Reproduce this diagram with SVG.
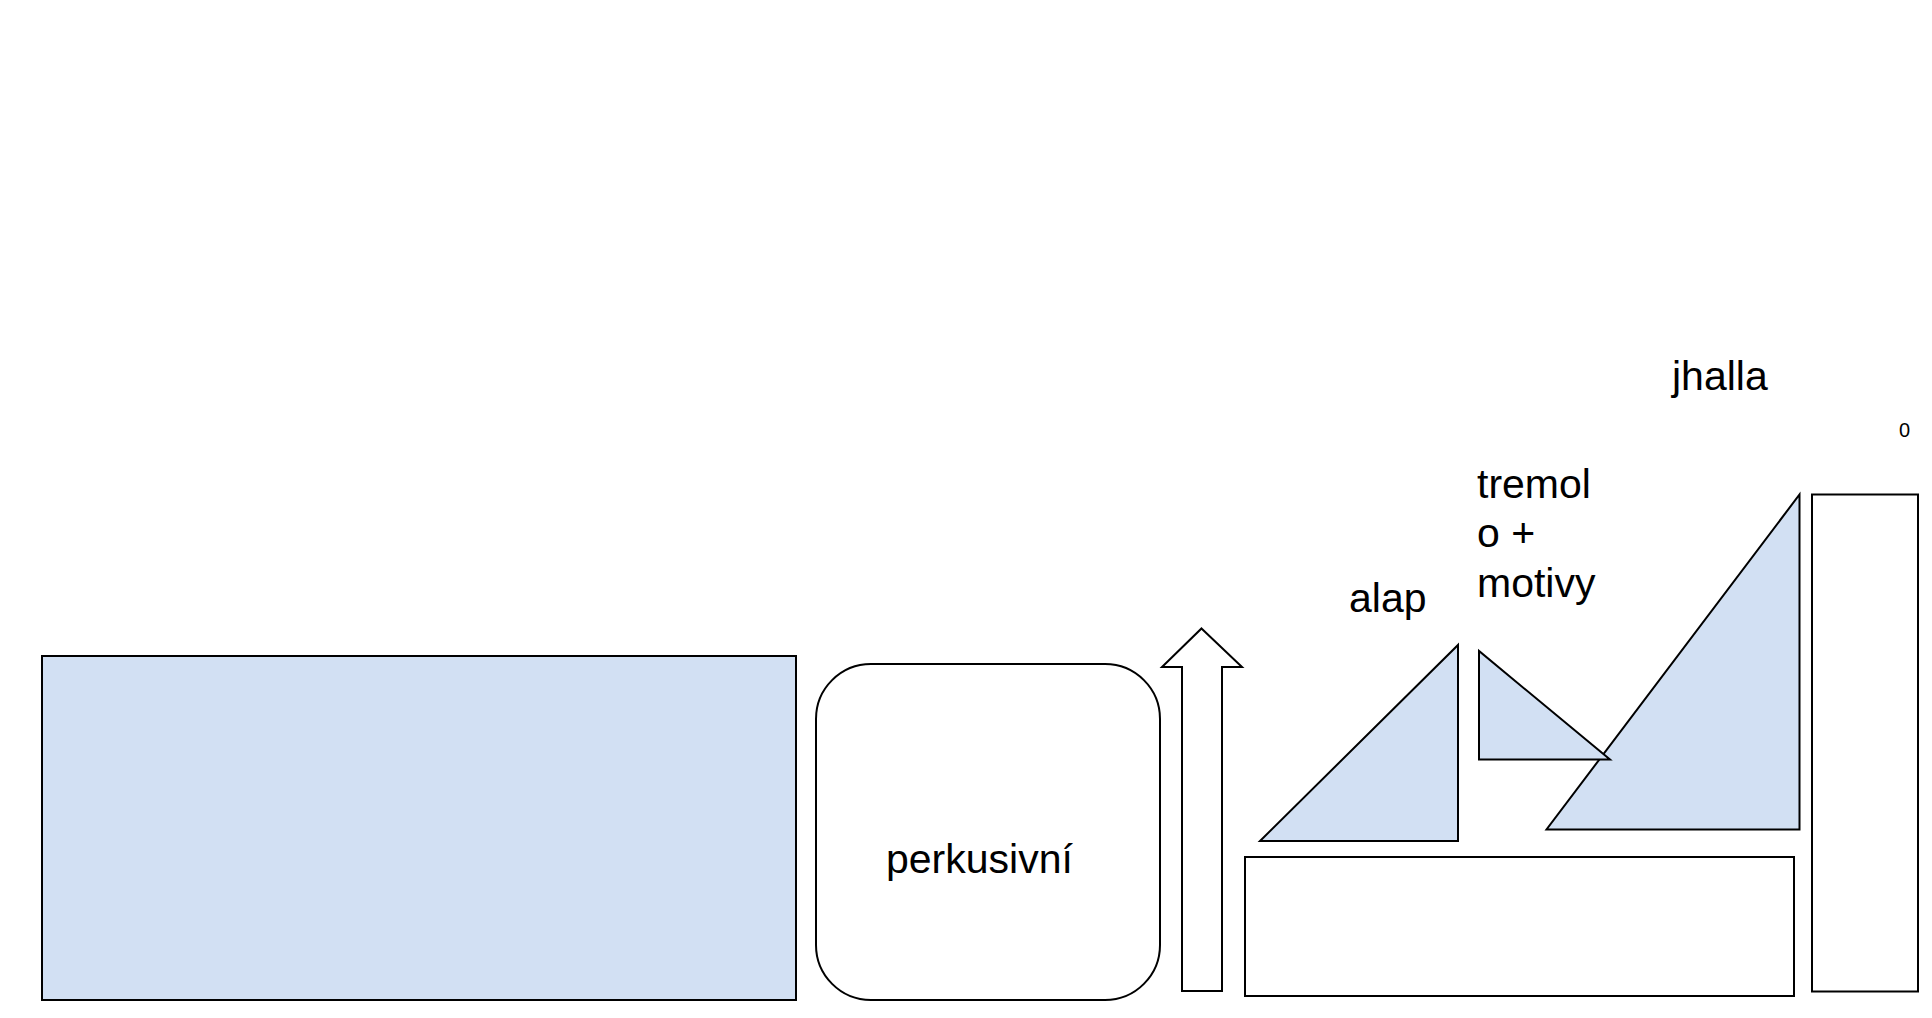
<svg xmlns="http://www.w3.org/2000/svg" width="1932" height="1018" viewBox="0 0 1932 1018">
<style>
.s{stroke:#000;stroke-width:2;stroke-linejoin:miter}
.b{fill:#d2e0f3}
.w{fill:#fff}
.t{font-family:"Liberation Sans",Arial,sans-serif;font-size:41px;fill:#000}
</style>
<rect width="1932" height="1018" fill="#fff"/>
<g id="big-rect"><rect class="s b" x="42" y="656" width="754" height="344"/></g>
<g id="perkusivni"><rect class="s w" x="816" y="664" width="344" height="336" rx="55" ry="55"/>
<text class="t" x="886" y="873">perkusivní</text></g>
<g id="arrow"><polygon class="s w" points="1201.5,628.5 1242,667 1222,667 1222,991 1182,991 1182,667 1162,667"/></g>
<g id="bottom-rect"><rect class="s w" x="1245" y="857" width="549" height="139"/></g>
<g id="right-rect"><rect class="s w" x="1812" y="494.5" width="106" height="497"/></g>
<g id="alap"><polygon class="s b" points="1458,645 1458,841 1260,841"/>
<text class="t" x="1349" y="612">alap</text></g>
<g id="jhalla"><polygon class="s b" points="1799.5,494.5 1799.5,829.5 1546.5,829.5"/>
<text class="t" x="1672" y="390">jhalla</text></g>
<g id="tremolo"><polygon class="s b" points="1479,651 1479,759.5 1610,759.5"/>
<text class="t" x="1477" y="498">tremol</text>
<text class="t" x="1477" y="547">o +</text>
<text class="t" x="1477" y="597">motivy</text></g>
<g id="zero"><text x="1899" y="437" style="font-family:'Liberation Sans',Arial,sans-serif;font-size:20px;fill:#000">0</text></g>
<g id="connectors"></g>
</svg>
